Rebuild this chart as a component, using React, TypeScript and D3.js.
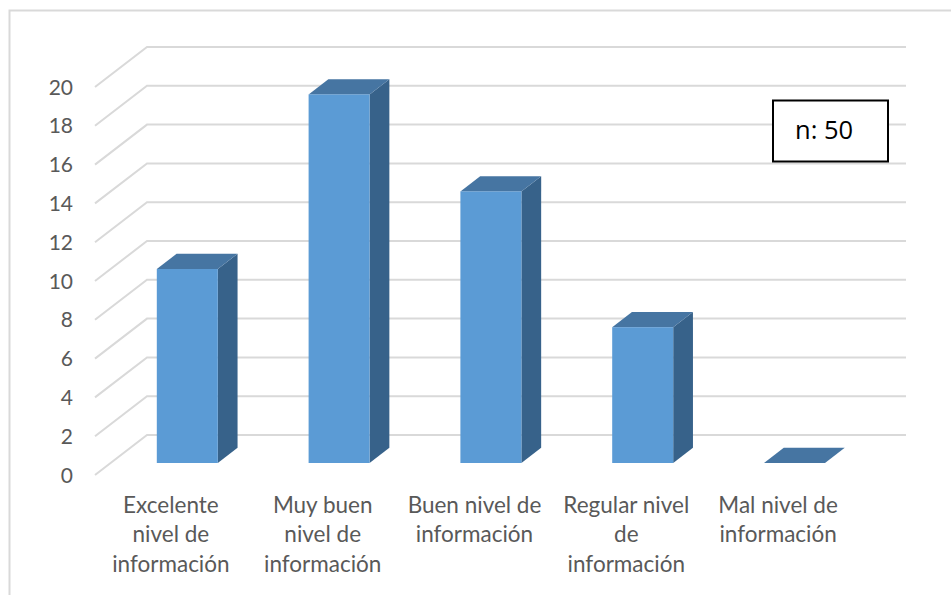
import React from "react";
import * as d3 from "d3";

const categories = [
  ["Excelente", "nivel de", "información"],
  ["Muy buen", "nivel de", "información"],
  ["Buen nivel de", "información"],
  ["Regular nivel", "de", "información"],
  ["Mal nivel de", "información"],
];
const values = [10, 19, 14, 7, 0];
const yTicks = [0, 2, 4, 6, 8, 10, 12, 14, 16, 18, 20];
const noteText = "n: 50";

const WIDTH = 951;
const HEIGHT = 595;
const FONT = "Lato, 'Open Sans', sans-serif";

// Oblique projection: the floor runs this far back from the front plane.
const FLOOR_DX = 52;
const FLOOR_DY = -40;
// Bars sit part-way into the floor and take up part of its depth.
const BAR_INSET = 0.3;
const BAR_DEPTH = 0.38;
const BAR_WIDTH = 61;
const BAR_NUDGE = 0.8;

const x = d3
  .scaleBand<number>()
  .domain(d3.range(categories.length))
  .range([95, 854]);
const y = d3.scaleLinear().domain([0, 20]).range([475, 87]);

const poly = (pts: [number, number][]) => d3.line()(pts) + "Z";

export default function App() {
  const insetX = FLOOR_DX * BAR_INSET;
  const insetY = FLOOR_DY * BAR_INSET;
  const depthX = FLOOR_DX * BAR_DEPTH;
  const depthY = FLOOR_DY * BAR_DEPTH;

  return (
    <svg
      width={WIDTH}
      height={HEIGHT}
      viewBox={`0 0 ${WIDTH} ${HEIGHT}`}
      style={{ position: "absolute", left: 0, top: 0, background: "#fff" }}
    >
      {/* Chart area frame, open at the right and bottom */}
      <path d="M9.5,595V10.5H951" fill="none" stroke="#d9d9d9" strokeWidth={2} />

      {/* Gridlines along the side wall and back wall */}
      {yTicks.map((t) => (
        <path
          key={t}
          d={`M95,${y(t)}L${95 + FLOOR_DX},${y(t) + FLOOR_DY}H906`}
          fill="none"
          stroke="#d9d9d9"
          strokeWidth={2}
        />
      ))}

      {yTicks.map((t) => (
        <text
          key={t}
          x={73}
          y={y(t)}
          dy="0.36em"
          textAnchor="end"
          fontFamily={FONT}
          fontSize={21}
          fill="#595959"
        >
          {t}
        </text>
      ))}

      {values.map((v, i) => {
        const cx = x(i)! + x.bandwidth() / 2 + insetX + BAR_NUDGE;
        const x0 = cx - BAR_WIDTH / 2;
        const x1 = x0 + BAR_WIDTH;
        const yb = y(0) + insetY;
        const yt = y(v) + insetY;
        return (
          <g key={i}>
            {v > 0 && (
              <path
                d={poly([
                  [x1, yt],
                  [x1 + depthX, yt + depthY],
                  [x1 + depthX, yb + depthY],
                  [x1, yb],
                ])}
                fill="#37628a"
              />
            )}
            <path
              d={poly([
                [x0, yt],
                [x0 + depthX, yt + depthY],
                [x1 + depthX, yt + depthY],
                [x1, yt],
              ])}
              fill="#4675a2"
            />
            {v > 0 && (
              <rect x={x0} y={yt} width={BAR_WIDTH} height={yb - yt} fill="#5b9bd5" />
            )}
          </g>
        );
      })}

      {categories.map((lines, i) => (
        <text
          key={i}
          textAnchor="middle"
          fontFamily={FONT}
          fontSize={22.5}
          fill="#595959"
        >
          {lines.map((line, j) => (
            <tspan key={j} x={x(i)! + x.bandwidth() / 2} y={513 + j * 29.3}>
              {line}
            </tspan>
          ))}
        </text>
      ))}

      {/* Sample size note */}
      <rect x={773} y={100.5} width={115} height={61} fill="#fff" stroke="#000" strokeWidth={2} />
      <text
        x={795}
        y={139}
        fontFamily="'Open Sans', sans-serif"
        fontSize={25.5}
        fill="#000"
      >
        {noteText}
      </text>
    </svg>
  );
}
